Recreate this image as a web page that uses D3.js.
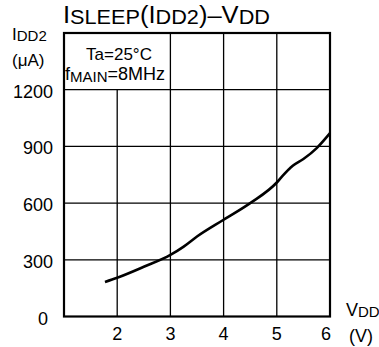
<!DOCTYPE html>
<html><head><meta charset="utf-8">
<script src="https://cdn.jsdelivr.net/npm/d3@7"></script>
<style>body{margin:0;background:#fff}svg{display:block;font-family:"Liberation Sans",Arial,sans-serif}</style>
</head><body>
<svg id="c" width="379" height="347"></svg>
<script>
const vdd = [1.77, 2, 2.5, 3, 3.25, 3.5, 4, 4.5, 5, 5.1, 5.3, 5.5, 5.75, 6];
const idd = [183, 205, 263, 326, 370, 423, 512, 600, 709, 741, 797, 833, 891, 970];
const xTicks = [2, 3, 4, 5, 6];
const yTicks = [0, 300, 600, 900, 1200];

const svg = d3.select("#c");
const L = 64, R = 330, T = 33, B = 316.5;
const x = d3.scaleLinear().domain([1, 6]).range([L, R]);
const y = d3.scaleLinear().domain([0, 1500]).range([B, T]);

// grid
const g = svg.append("g").attr("stroke", "#000").attr("stroke-width", 1.3);
xTicks.filter(d => d < 6).forEach(d => {
  g.append("line").attr("x1", x(d)).attr("x2", x(d))
    .attr("y1", d < 3 ? y(1200) : T).attr("y2", B);
});
yTicks.filter(d => d > 0).forEach(d => {
  g.append("line").attr("x1", L).attr("x2", R).attr("y1", y(d)).attr("y2", y(d));
});
// frame
svg.append("rect").attr("x", L).attr("y", T).attr("width", R - L).attr("height", B - T)
  .attr("fill", "none").attr("stroke", "#000").attr("stroke-width", 2.2);

// curve
const pts = vdd.map((v, i) => [v, idd[i]]);
svg.append("path").datum(pts)
  .attr("d", d3.line().x(d => x(d[0])).y(d => y(d[1])).curve(d3.curveMonotoneX))
  .attr("fill", "none").attr("stroke", "#000").attr("stroke-width", 2.6);

// y tick labels
svg.append("g").selectAll("text").data(yTicks).join("text")
  .attr("x", d => d === 0 ? 48 : 53).attr("y", d => y(d) + 8)
  .attr("text-anchor", "end").attr("font-size", 18).text(d => d);

// x tick labels
svg.append("g").selectAll("text").data(xTicks).join("text")
  .attr("x", d => d === 6 ? x(d) - 4 : x(d)).attr("y", 340)
  .attr("text-anchor", "middle").attr("font-size", 18).text(d => d);

// axis labels
const yl = svg.append("text").attr("x", 12).attr("y", 40).attr("font-size", 17);
yl.append("tspan").text("I");
yl.append("tspan").text("DD2").attr("font-size", 15).attr("dy", 1);
svg.append("text").attr("x", 12).attr("y", 66).attr("font-size", 17).text("(\u03bcA)");

const xl = svg.append("text").attr("x", 346).attr("y", 316).attr("font-size", 18);
xl.append("tspan").text("V");
xl.append("tspan").text("DD").attr("font-size", 15).attr("dy", 1);
svg.append("text").attr("x", 349).attr("y", 342).attr("font-size", 18).text("(V)");

// box text
svg.append("text").attr("x", 119).attr("y", 60).attr("text-anchor", "middle")
  .attr("font-size", 17).text("Ta=25\u00b0C");
const ft = svg.append("text").attr("x", 65).attr("y", 80).attr("font-size", 18);
ft.append("tspan").text("f");
ft.append("tspan").text("MAIN").attr("font-size", 15).attr("dy", 2);
ft.append("tspan").text("=8MHz").attr("font-size", 18).attr("dy", -2);

// title
const tg = svg.append("g");
const tt = tg.append("text").attr("x", 0).attr("y", 23).attr("font-size", 23);
tt.append("tspan").text("I");
tt.append("tspan").text("SLEEP").attr("font-size", 19.5).attr("dy", 1.5);
tt.append("tspan").text("(I").attr("font-size", 23).attr("dy", -1.5);
tt.append("tspan").text("DD2").attr("font-size", 19.5).attr("dy", 1.5);
tt.append("tspan").text(")\u2013V").attr("font-size", 23).attr("dy", -1.5);
tt.append("tspan").text("DD").attr("font-size", 19.5).attr("dy", 1.5);
const w = tt.node().getComputedTextLength();
tg.attr("transform", `translate(63,0) scale(${207 / w},1)`);
</script>
</body></html>
